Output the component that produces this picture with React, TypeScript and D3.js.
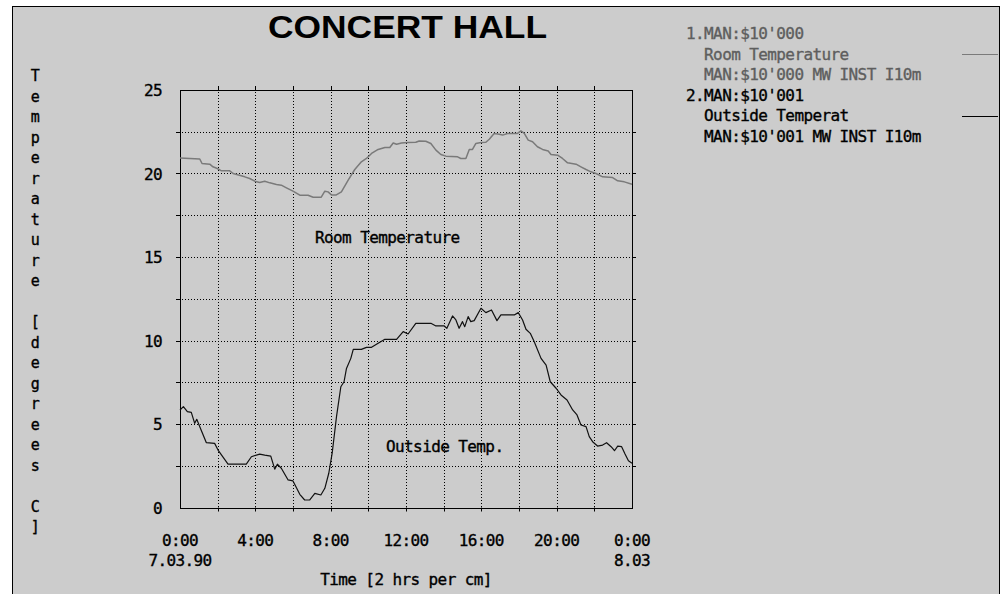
import React, { useRef, useEffect } from "react";
import * as d3 from "d3";

// hours since 0:00 on 7.03.90 and readings in degrees C
const roomHours = [0, 1.05, 1.17, 1.58, 1.75, 1.98, 2.2, 2.64, 2.82, 3.44, 3.7, 3.97, 4.23, 4.5, 4.77, 5.12, 5.38, 5.65, 6.0, 6.36, 6.8, 7.07, 7.5, 7.69, 7.86, 8.04, 8.3, 8.57, 8.93, 9.28, 9.63, 9.9, 10.17, 10.52, 10.88, 11.14, 11.32, 11.5, 11.76, 12.08, 12.52, 12.7, 13.05, 13.32, 13.59, 13.85, 14.12, 14.74, 14.91, 15.18, 15.36, 15.53, 15.71, 15.98, 16.24, 16.42, 16.68, 16.95, 17.13, 17.39, 17.92, 18.1, 18.28, 18.49, 18.72, 18.98, 19.25, 19.55, 19.7, 20.05, 20.31, 20.58, 21.03, 21.29, 21.56, 21.82, 22.09, 22.44, 22.97, 23.24, 23.59, 24];
const roomTemp = [20.93, 20.87, 20.6, 20.56, 20.4, 20.3, 20.16, 20.16, 20.0, 19.8, 19.7, 19.54, 19.46, 19.54, 19.44, 19.34, 19.3, 19.14, 18.94, 18.7, 18.7, 18.58, 18.58, 18.94, 18.9, 18.72, 18.72, 18.9, 19.6, 20.24, 20.7, 20.9, 21.2, 21.44, 21.56, 21.56, 21.83, 21.75, 21.83, 21.86, 21.87, 21.95, 21.93, 21.8, 21.4, 21.14, 21.04, 21.0, 20.9, 20.9, 21.44, 21.44, 21.8, 21.86, 21.87, 22.05, 22.4, 22.35, 22.3, 22.4, 22.4, 22.55, 22.4, 22.0, 21.9, 21.6, 21.44, 21.35, 21.14, 21.1, 20.9, 20.64, 20.56, 20.4, 20.24, 20.1, 20.0, 19.8, 19.76, 19.56, 19.5, 19.36];

const outsideHours = [0, 0.18, 0.39, 0.6, 0.78, 0.89, 1.05, 1.4, 1.84, 2.02, 2.55, 3.52, 3.79, 4.23, 4.5, 4.82, 5.03, 5.17, 5.38, 5.74, 6.0, 6.36, 6.62, 6.89, 7.16, 7.48, 7.69, 7.9, 8.08, 8.31, 8.54, 8.71, 8.84, 9.07, 9.2, 9.63, 9.9, 10.17, 10.52, 10.88, 11.5, 11.85, 12.11, 12.52, 13.32, 13.59, 14.03, 14.17, 14.47, 14.65, 14.82, 15.0, 15.12, 15.3, 15.44, 15.62, 15.98, 16.24, 16.54, 16.83, 17.04, 17.75, 17.96, 18.19, 18.37, 18.6, 18.81, 19.17, 19.44, 19.66, 19.97, 20.23, 20.55, 20.85, 21.08, 21.29, 21.56, 21.73, 21.91, 22.17, 22.44, 22.65, 22.89, 23.07, 23.24, 23.45, 23.63, 23.81, 24];
const outsideTemp = [5.84, 6.04, 5.74, 5.7, 5.04, 5.28, 4.84, 3.88, 3.84, 3.44, 2.6, 2.6, 3.04, 3.2, 3.14, 3.08, 2.3, 2.59, 2.35, 1.65, 1.59, 0.79, 0.45, 0.45, 0.85, 0.75, 1.15, 2.05, 3.25, 5.44, 7.23, 7.53, 8.33, 8.93, 9.47, 9.47, 9.59, 9.59, 9.83, 10.07, 10.07, 10.53, 10.39, 11.03, 11.03, 10.87, 10.87, 10.73, 11.47, 11.23, 10.73, 11.13, 10.83, 11.43, 11.13, 11.19, 11.93, 11.67, 11.83, 11.19, 11.53, 11.53, 11.67, 11.23, 10.67, 10.43, 9.93, 8.93, 8.53, 7.53, 7.14, 6.74, 6.44, 5.84, 5.54, 4.94, 4.84, 4.24, 3.94, 3.68, 3.74, 3.88, 3.64, 3.4, 3.68, 3.64, 3.2, 2.8, 2.65];

const xTickHours = [0, 4, 8, 12, 16, 20, 24];
const xTickTimes = ["0:00", "4:00", "8:00", "12:00", "16:00", "20:00", "0:00"];
const xTickDates = ["7.03.90", "", "", "", "", "", "8.03"];
const yTickValues = [0, 5, 10, 15, 20, 25];

const legendLines = [
  "1.MAN:$10'000",
  "  Room Temperature",
  "  MAN:$10'000 MW INST I10m",
  "2.MAN:$10'001",
  "  Outside Temperat",
  "  MAN:$10'001 MW INST I10m",
];
const yTitle = "Temperature [degrees C]";

const mono = "'DejaVu Sans Mono', monospace";
const roomColor = "#7a7a7a";
const outsideColor = "#111";

const App = () => {
  const gRef = useRef<SVGGElement>(null);
  const margin = { top: 90, right: 375, bottom: 86.5, left: 180 };
  const W = 1007;
  const H = 594;

  useEffect(() => {
    const g = d3.select(gRef.current);
    g.selectAll("*").remove();

    const x = d3.scaleLinear().domain([0, 24]).range([margin.left, W - margin.right]);
    const y = d3.scaleLinear().domain([0, 25]).range([H - margin.bottom, margin.top]);
    const [x0, x1] = x.range();
    const [y0, y1] = y.range();

    // dotted grid every 2 hrs / 2.5 degrees
    const hours = d3.range(2, 24, 2);
    const levels = d3.range(2.5, 25, 2.5);
    g.append("g")
      .selectAll("line")
      .data(hours)
      .join("line")
      .attr("x1", (d) => Math.round(x(d)) + 0.5)
      .attr("x2", (d) => Math.round(x(d)) + 0.5)
      .attr("y1", y1 - 4)
      .attr("y2", y0 + 4)
      .attr("stroke", "#000")
      .attr("stroke-dasharray", "1,2");
    g.append("g")
      .selectAll("line")
      .data(levels)
      .join("line")
      .attr("y1", (d) => Math.round(y(d)) + 0.5)
      .attr("y2", (d) => Math.round(y(d)) + 0.5)
      .attr("x1", x0 - 4)
      .attr("x2", x1 + 4)
      .attr("stroke", "#000")
      .attr("stroke-dasharray", "1,2");

    // outward tick marks on all sides
    const ticks = g.append("g").attr("stroke", "#000");
    hours.forEach((h) => {
      const px = Math.round(x(h)) + 0.5;
      ticks.append("line").attr("x1", px).attr("x2", px).attr("y1", y1 - 4).attr("y2", y1);
      ticks.append("line").attr("x1", px).attr("x2", px).attr("y1", y0).attr("y2", y0 + 4);
    });
    levels.forEach((v) => {
      const py = Math.round(y(v)) + 0.5;
      ticks.append("line").attr("x1", x0 - 4).attr("x2", x0).attr("y1", py).attr("y2", py);
      ticks.append("line").attr("x1", x1).attr("x2", x1 + 4).attr("y1", py).attr("y2", py);
    });

    // plot frame
    g.append("rect")
      .attr("x", Math.round(x0) + 0.5)
      .attr("y", Math.round(y1) + 0.5)
      .attr("width", Math.round(x1) - Math.round(x0))
      .attr("height", Math.round(y0) - Math.round(y1))
      .attr("fill", "none")
      .attr("stroke", "#000");

    const roomLine = d3
      .line<number>()
      .x((d) => x(d))
      .y((d, i) => y(roomTemp[i]));
    const outLine = d3
      .line<number>()
      .x((d) => x(d))
      .y((d, i) => y(outsideTemp[i]));

    g.append("path")
      .attr("d", roomLine(roomHours))
      .attr("fill", "none")
      .attr("stroke", roomColor)
      .attr("stroke-width", 1.5)
      .attr("stroke-linejoin", "round");
    g.append("path")
      .attr("d", outLine(outsideHours))
      .attr("fill", "none")
      .attr("stroke", outsideColor)
      .attr("stroke-width", 1.2)
      .attr("stroke-linejoin", "round");

    const txt = (sel: any, size = 16, color = "#000") =>
      sel
        .attr("font-family", mono)
        .attr("font-size", size)
        .attr("letter-spacing", -0.6)
        .attr("fill", color)
        .attr("stroke", color)
        .attr("stroke-width", 0.35);

    // y tick labels
    yTickValues.forEach((v) => {
      txt(g.append("text"))
        .attr("x", 162)
        .attr("y", y(v) + 6)
        .attr("text-anchor", "end")
        .text(v);
    });

    // x tick labels
    xTickHours.forEach((h, i) => {
      txt(g.append("text")).attr("x", x(h)).attr("y", 546).attr("text-anchor", "middle").text(xTickTimes[i]);
      if (xTickDates[i])
        txt(g.append("text")).attr("x", x(h)).attr("y", 566).attr("text-anchor", "middle").text(xTickDates[i]);
    });

    txt(g.append("text"))
      .attr("x", (x0 + x1) / 2)
      .attr("y", 585)
      .attr("text-anchor", "middle")
      .text("Time [2 hrs per cm]");

    // vertical y title, one letter per line
    yTitle.split("").forEach((c, i) => {
      if (c === " ") return;
      txt(g.append("text"), 15)
        .attr("x", 35)
        .attr("y", 81 + i * 20.5)
        .attr("text-anchor", "middle")
        .text(c);
    });

    // labels inside the plot
    txt(g.append("text")).attr("x", 315).attr("y", 243).text("Room Temperature");
    txt(g.append("text")).attr("x", 386).attr("y", 452).text("Outside Temp.");

    // legend
    legendLines.forEach((s, i) => {
      txt(g.append("text"), 16, i < 3 ? "#5e5e5e" : "#000")
        .attr("x", 686)
        .attr("y", 39 + i * 20.6)
        .attr("xml:space", "preserve")
        .style("white-space", "pre")
        .text(s);
    });
    g.append("line").attr("x1", 962).attr("x2", 998).attr("y1", 54.5).attr("y2", 54.5).attr("stroke", roomColor);
    g.append("line").attr("x1", 962).attr("x2", 998).attr("y1", 116.5).attr("y2", 116.5).attr("stroke", "#000");

    // title
    g.append("text")
      .attr("x", 268)
      .attr("y", 38)
      .attr("textLength", 279)
      .attr("lengthAdjust", "spacingAndGlyphs")
      .attr("font-family", "'Liberation Sans', Arial, sans-serif")
      .attr("font-weight", "bold")
      .attr("font-size", 32)
      .text("CONCERT HALL");
  }, []);

  return (
    <svg width={W} height={H} style={{ position: "absolute", left: 0, top: 0, background: "#fff" }}>
      <rect x={12.5} y={6.5} width={987} height={600} fill="#cccccc" stroke="#000" />
      <g ref={gRef} />
    </svg>
  );
};

export default App;
